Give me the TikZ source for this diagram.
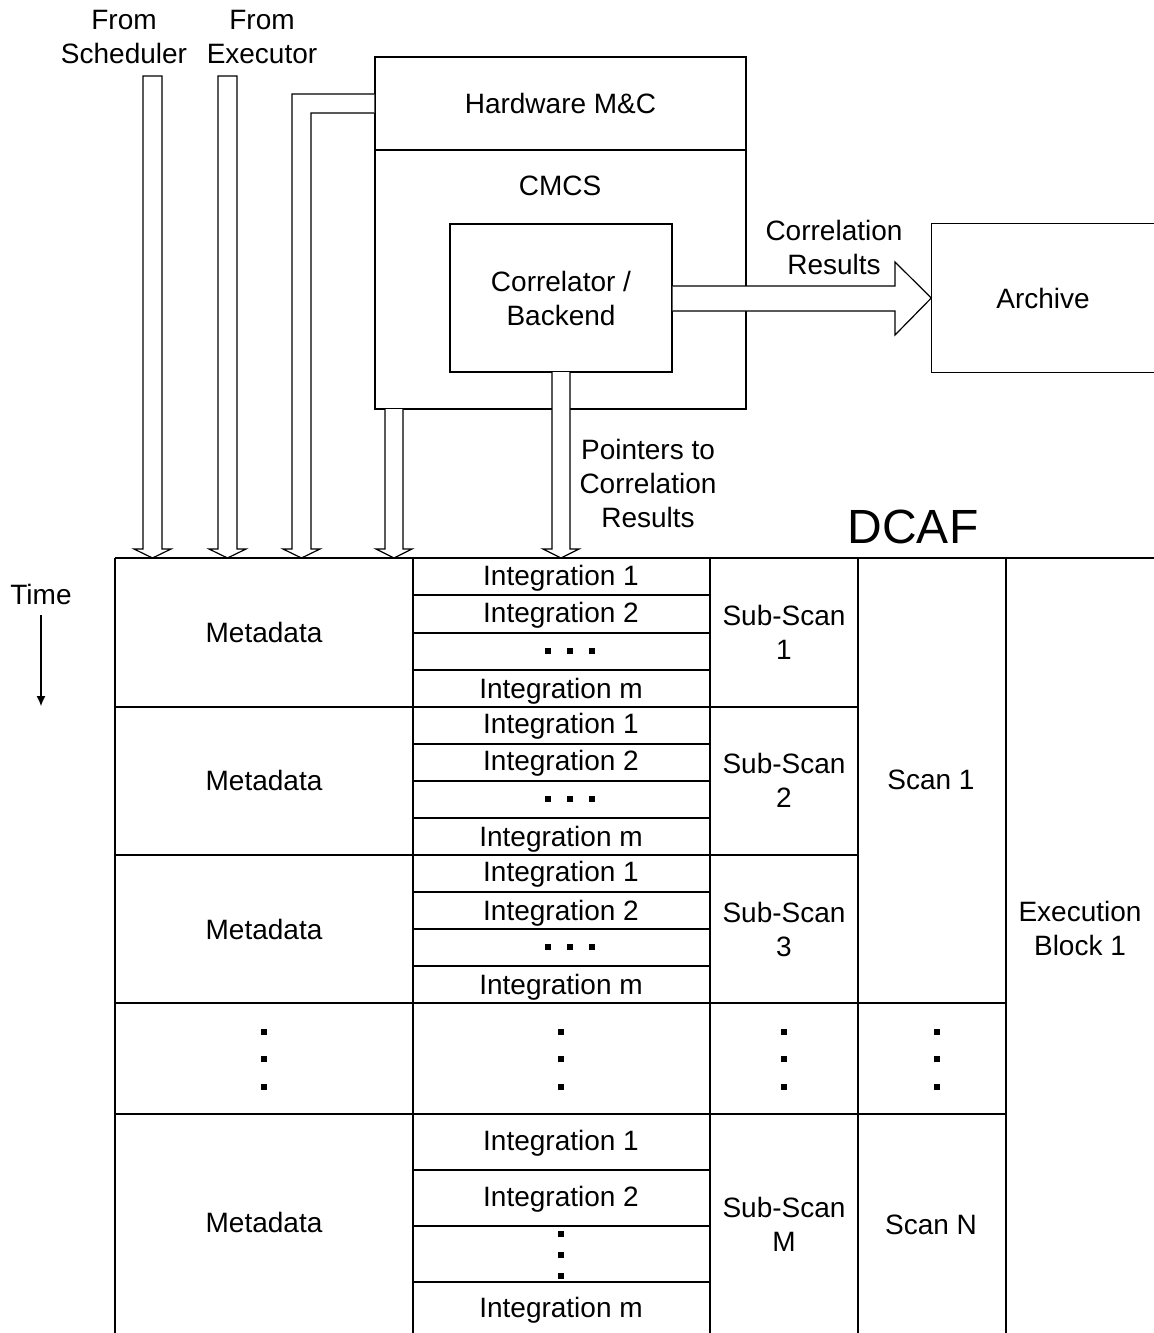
\documentclass[tikz,border=0pt]{standalone}
\usepackage{fontspec}
\setmainfont{Liberation Sans}
\usetikzlibrary{calc,fit,arrows.meta}
\newcommand\HollowDown[4]{\draw[hollow] (#1,#3) -- (#1,549) -- ({#1-9},549) -- ({(#1+#2)/2},558) -- ({#2+9},549) -- (#2,549) -- (#2,#3) #4;}
\begin{document}
\begin{tikzpicture}[x=0.5pt,y=-0.5pt, line width=0.7pt,
 lbl/.style={font=\fontsize{14}{17}\selectfont, align=center, inner sep=0pt},
 fbox/.style={draw, inner sep=0pt, font=\fontsize{14}{17}\selectfont, align=center},
 nbox/.style={inner sep=0pt},
 hollow/.style={draw, fill=white, line width=0.6pt, line join=miter},
 sqdot/.style={fill, minimum size=3pt, inner sep=0pt},
 hdot/.style={fill, minimum size=2.6pt, inner sep=0pt}
]
\useasboundingbox (0,0) rectangle (1154,1333);

% top labels
\node[lbl] (fs) at (124,37) {From\\Scheduler};
\node[lbl] (fe) at (262,37) {From\\Executor};

% boxes
\node[fbox, fit={(375,57) (746,150)}] (hw) {};
\node[lbl] at (hw.center) {Hardware M\&C};
\node[fbox, fit={(375,150) (746,409)}] (cmcs) {};
\node[lbl] (cmcslab) at (560,186) {CMCS};
\node[fbox, fit={(450,224) (672,372)}] (corr) {};
\node[lbl] at (corr.center) {Correlator /\\Backend};
\node[nbox, fit={(932,224) (1154,372)}] (arch) {};
\draw (arch.north east) -- (arch.north west) -- (arch.south west) -- (arch.south east);
\node[lbl] at (1043,298) {Archive};

% big arrow to archive
\draw[hollow] (corr.east |- 0,286) -- (895,286) -- (895,262) -- (arch.west) -- (895,335) -- (895,311) -- (corr.east |- 0,311);
\node[lbl] (crlab) at (834,247) {Correlation\\Results};

% hollow down arrows
\HollowDown{143}{162}{76}{-- cycle}
\HollowDown{218}{237}{76}{-- cycle}
\HollowDown{385}{403}{409}{}
\HollowDown{552}{570}{372}{}
\draw[hollow] (hw.west |- 0,94) -- (292,94) -- (292,549) -- (283,549) -- (301.5,558) -- (320,549) -- (311,549) -- (311,113) -- (hw.west |- 0,113);

\node[lbl] (ptr) at (648,483) {Pointers to\\Correlation\\Results};
\node[font=\fontsize{24}{28}\selectfont, inner sep=0pt] (dcaf) at (913,527) {DCAF};

% time
\node[lbl] (time) at (41,594) {Time};
\coordinate (timeend) at (41,706);
\draw[-{Latex[length=5pt,width=4.5pt]}, line width=0.6pt] ([yshift=-5pt]time.south) -- (timeend);

% table grid
\draw (115,558) -- (1154,558);
\foreach \x in {115,413,710,858,1006} \draw (\x,558) -- (\x,1333);
\foreach \y in {707,855} \draw (115,\y) -- (858,\y);
\foreach \y in {1003,1114} \draw (115,\y) -- (1006,\y);
\foreach \y in {595,633,670,744,781,818,892,929,966,1170,1226,1282} \draw (413,\y) -- (710,\y);

% metadata
\foreach \y/\n in {632/1,780/2,929/3,1222/4} \node[lbl] (meta\n) at (264,\y) {Metadata};

% integrations
\foreach \a/\b/\c/\d/\n in {578/615/691/651/1,726/763/839/799/2,874/913/987/947/3}{
  \node[lbl] (ia\n) at (561,\a) {Integration 1};
  \node[lbl] (ib\n) at (561,\b) {Integration 2};
  \node[lbl] (ic\n) at (561,\c) {Integration m};
  \node[hdot] (hd\n a) at (548,\d) {};
  \node[hdot] (hd\n b) at (570,\d) {};
  \node[hdot] (hd\n c) at (592,\d) {};
}
\node[lbl] (ia4) at (561,1143) {Integration 1};
\node[lbl] (ib4) at (561,1199) {Integration 2};
\node[lbl] (ic4) at (561,1310) {Integration m};
\foreach \y/\k in {1234/a,1255/b,1276/c} \node[sqdot] (vd4\k) at (561,\y) {};

% sub-scans
\node[lbl] (ss1) at (784,632) {Sub-Scan\\1};
\node[lbl] (ss2) at (784,780) {Sub-Scan\\2};
\node[lbl] (ss3) at (784,929) {Sub-Scan\\3};
\node[lbl] (ssm) at (784,1224) {Sub-Scan\\M};
\node[lbl] (scan1) at (931,780) {Scan 1};
\node[lbl] (scann) at (931,1225) {Scan N};
\node[lbl] (eb) at (1080,928) {Execution\\Block 1};

% vertical ellipsis row
\foreach \x/\k in {264/a,561/b,784/c,937/d}
  \foreach \y/\j in {1032/1,1059/2,1087/3}
    \node[sqdot] (ve\k\j) at (\x,\y) {};
\end{tikzpicture}
\end{document}
